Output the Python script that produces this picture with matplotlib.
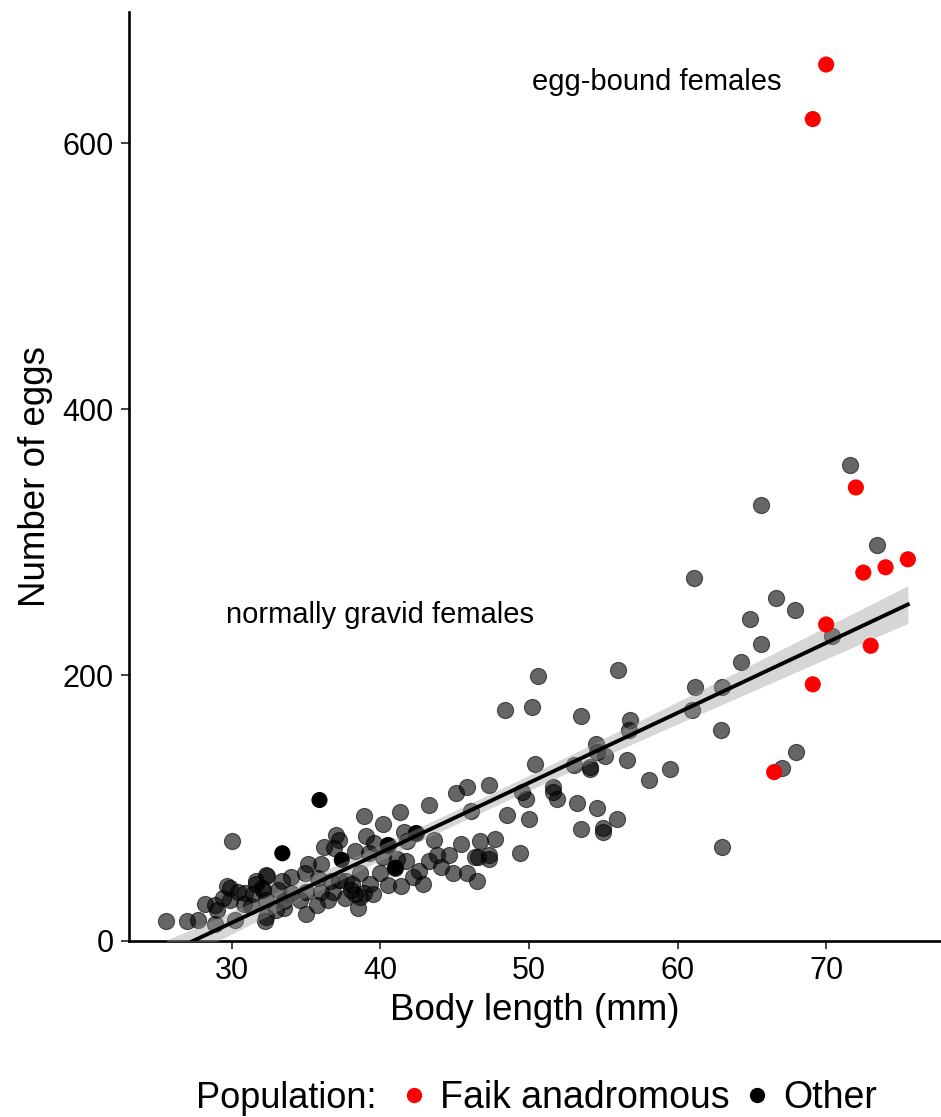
import numpy as np
import matplotlib
matplotlib.use("Agg")
import matplotlib.pyplot as plt
from matplotlib.lines import Line2D

plt.rcParams['font.family'] = ['Liberation Sans', 'DejaVu Sans']

# --- data ------------------------------------------------------------------
# "Other" population (body length mm, number of eggs)
other_len = [
    71.6, 65.6, 73.4, 61.1, 66.6, 67.9, 64.9, 65.6, 64.3, 70.4, 61.2, 63.0,
    61.0, 62.9, 68.0, 59.5, 67.0, 63.0, 58.1,
    50.6, 56.0, 48.4, 50.2, 53.5, 56.8, 56.7, 54.5, 54.6, 55.1, 53.0, 54.1,
    54.1, 56.6, 50.4, 51.6, 51.6, 51.9, 49.5, 49.8, 53.2, 54.6, 55.9, 53.5,
    55.0, 55.0, 48.5, 50.0, 47.3, 45.8, 45.1, 46.1, 43.3, 43.6, 45.4, 46.7,
    47.7, 49.4, 46.6, 45.8, 47.3, 47.3,
    41.3, 38.9, 40.2, 41.6, 42.4, 39.0, 39.6, 40.5, 41.8, 38.3, 39.2, 40.2,
    41.1, 43.8, 44.6, 46.4, 41.7, 43.3, 44.1, 41.0, 40.0, 42.6, 44.9, 38.6,
    39.3, 40.5, 41.4, 42.9, 38.1, 46.5, 42.2, 38.9, 38.3, 39.5,
    37.0, 37.2, 36.2, 36.9, 35.1, 36.0, 34.0, 32.4, 33.4, 34.9, 35.8, 36.7,
    37.7, 31.6, 32.0, 31.4, 33.1, 34.0, 35.0, 36.0, 36.8, 37.2, 38.0, 38.6,
    38.5, 32.3, 33.5, 34.6, 35.7, 36.5, 37.6, 32.3, 33.5, 35.0, 33.0, 31.3,
    30.0, 25.6, 27.0, 27.7, 28.2, 28.9, 29.7, 29.9, 29.4, 29.9, 29.0, 30.4,
    30.9, 30.8, 31.6, 32.3, 32.1, 28.9, 30.2, 32.2,
]
other_eggs = [
    358, 328, 298, 273, 258, 249, 242, 223, 210, 229, 191, 191,
    174, 159, 142, 129, 130, 71, 121,
    199, 204, 174, 176, 169, 166, 159, 148, 142, 139, 132, 131,
    129, 136, 133, 116, 112, 107, 112, 107, 104, 100, 92, 84,
    85, 82, 95, 92, 117, 116, 111, 98, 102, 76, 73, 75,
    77, 66, 63, 51, 65, 62,
    97, 94, 88, 82, 81, 79, 74, 72, 75, 68, 66, 63,
    62, 65, 65, 63, 60, 60, 56, 55, 51, 53, 51, 51,
    43, 42, 41, 43, 43, 45, 48, 36, 35, 35,
    80, 76, 71, 70, 58, 58, 48, 49, 45, 51, 47, 45,
    45, 45, 40, 35, 38, 36, 37, 37, 37, 46, 38, 33,
    25, 31, 30, 31, 27, 31, 32, 18, 25, 20, 23, 26,
    75, 15, 15, 16, 28, 27, 41, 40, 32, 31, 23, 37,
    36, 28, 43, 50, 38, 13, 16, 15,
]
# "Other" fish drawn fully opaque in the reference
solid_len = [35.9, 33.4, 37.4, 42.4, 41.0, 40.5]
solid_eggs = [106, 66, 61, 81, 55, 72]

# Faik anadromous population
faik_len = [70.0, 69.1, 72.0, 72.5, 74.0, 75.5, 70.0, 73.0, 69.1, 66.5]
faik_eggs = [659, 618, 341, 277, 281, 287, 238, 222, 193, 127]
egg_bound = [True, True, False, False, False, False, False, False, False, False]

x_ticks = [30, 40, 50, 60, 70]
y_ticks = [0, 200, 400, 600]

# --- regression on normally gravid females ---------------------------------
fx = np.array(other_len + solid_len + [l for l, b in zip(faik_len, egg_bound) if not b])
fy = np.array(other_eggs + solid_eggs + [e for e, b in zip(faik_eggs, egg_bound) if not b])
n = len(fx)
slope, icpt = np.polyfit(fx, fy, 1)
resid = fy - (icpt + slope * fx)
s = np.sqrt(np.sum(resid ** 2) / (n - 2))
xs = np.linspace(fx.min(), fx.max(), 200)
se = s * np.sqrt(1 / n + (xs - fx.mean()) ** 2 / np.sum((fx - fx.mean()) ** 2))
t = 1.97
yfit = icpt + slope * xs

# --- plot -------------------------------------------------------------------
fig = plt.figure(figsize=(9.41, 11.17), dpi=100)
ax = fig.add_axes([129 / 941, 176 / 1117, 812 / 941, 929 / 1117])

ax.scatter(other_len, other_eggs, s=135, c='black', alpha=0.6,
           edgecolors='black', linewidths=0.8, zorder=2)
ax.scatter(solid_len, solid_eggs, s=135, c='black', edgecolors='none', zorder=2)
ax.fill_between(xs, yfit - t * se, yfit + t * se, color='#999999', alpha=0.4,
                linewidth=0, zorder=3)
ax.plot(xs, yfit, color='black', lw=2.8, zorder=4)
ax.scatter(faik_len, faik_eggs, s=135, c='#ff0000', edgecolors='none', zorder=5)

ax.text(58.6, 646, 'egg-bound females', fontsize=21, ha='center', va='center')
ax.text(40.0, 245, 'normally gravid females', fontsize=21, ha='center', va='center')

ax.set_xlim(23.08, 77.73)
ax.set_ylim(0, 698.5)
ax.set_xticks(x_ticks)
ax.set_yticks(y_ticks)
ax.tick_params(labelsize=22, length=6, width=1.3, pad=5, colors='#333333',
               labelcolor='black')
for side in ['top', 'right']:
    ax.spines[side].set_visible(False)
for side in ['left', 'bottom']:
    ax.spines[side].set_linewidth(1.9)
ax.set_xlabel('Body length (mm)', fontsize=26.5, labelpad=5)
ax.set_ylabel('Number of eggs', fontsize=26.5, labelpad=7)

fig.text(196 / 941, 0.017, 'Population:', fontsize=26, ha='left', va='center')
handles = [Line2D([], [], marker='o', ls='', color='#ff0000', markersize=10),
           Line2D([], [], marker='o', ls='', color='black', markersize=10)]
fig.legend(handles, ['Faik anadromous', 'Other'], loc='center left',
           bbox_to_anchor=(403 / 941, 0.017), ncol=2, frameon=False,
           fontsize=27, handletextpad=0.4, columnspacing=0.42, handlelength=0.6,
           borderaxespad=0, borderpad=0)

fig.savefig('out.png', dpi=100)
